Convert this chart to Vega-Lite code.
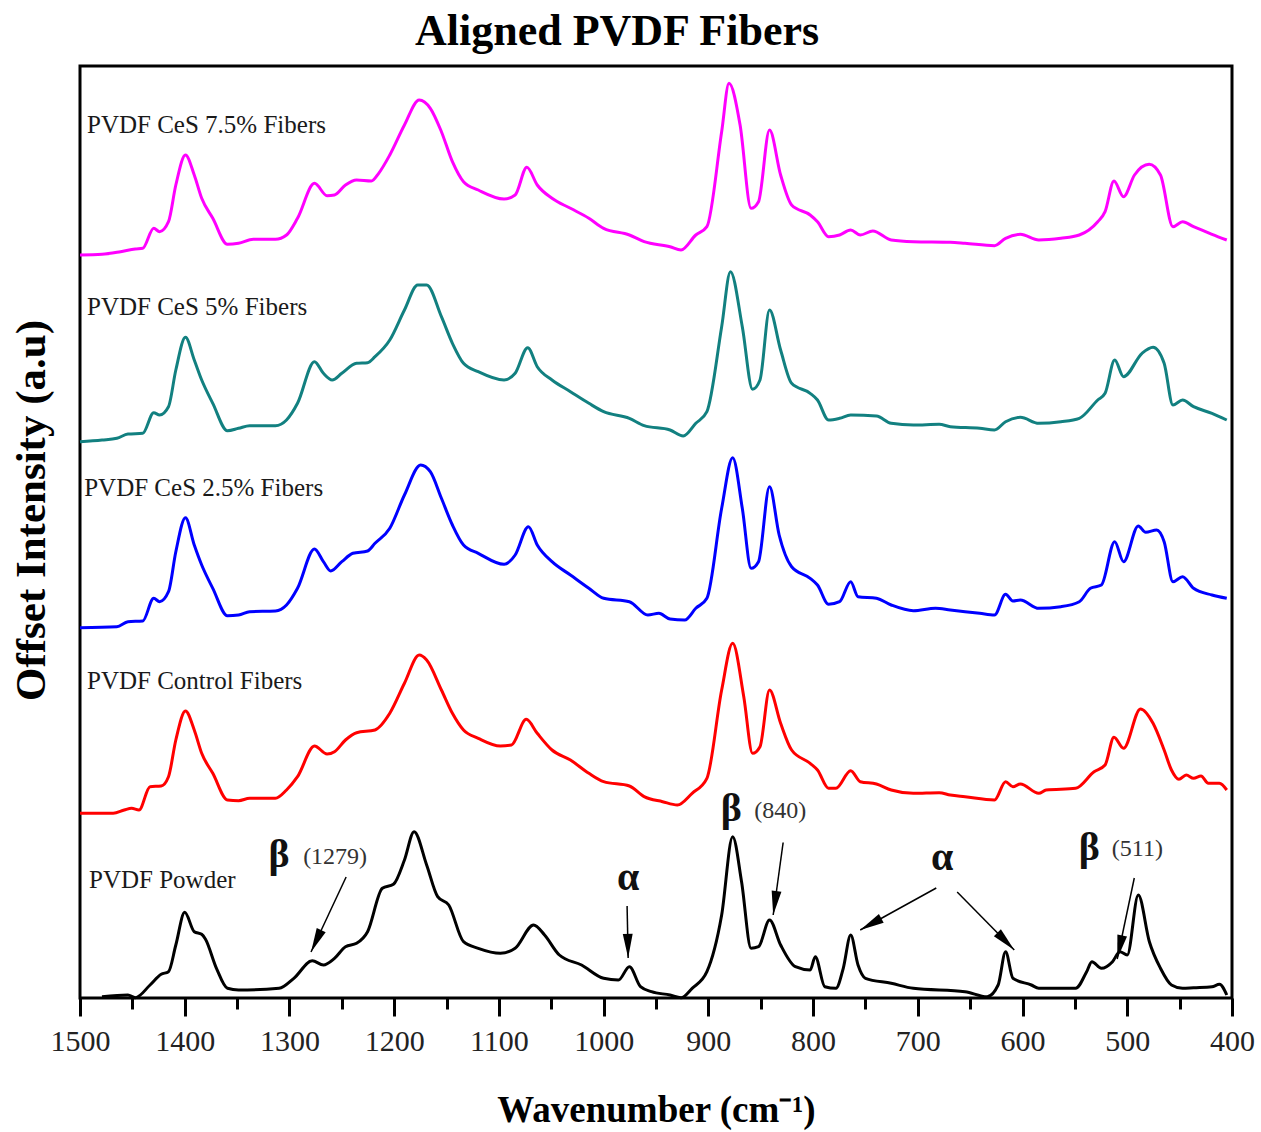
{
  "$schema": "https://vega.github.io/schema/vega-lite/v6.json",
  "width": 1152,
  "height": 932,
  "autosize": "none",
  "padding": {"left": 80, "top": 66, "right": 29, "bottom": 134},
  "background": "white",
  "title": {"text": "Aligned PVDF Fibers", "font": "Liberation Serif", "fontSize": 44, "fontWeight": "bold", "color": "black", "anchor": "middle", "dx": -39, "baseline": "alphabetic", "offset": -23},
  "config": {"view": {"stroke": "black", "strokeWidth": 3}},
  "datasets": {
    "spectra": [
      {"s":"k","w":1479,"v":1.3},{"s":"k","w":1454.2,"v":3},{"s":"k","w":1447.2,"v":0.3},{"s":"k","w":1433.1,"v":13},{"s":"k","w":1422.5,"v":23.7},{"s":"k","w":1415.5,"v":26.3},{"s":"k","w":1408.5,"v":53},{"s":"k","w":1400,"v":85.7},{"s":"k","w":1390.9,"v":66.3},{"s":"k","w":1383.8,"v":63.7},{"s":"k","w":1380.3,"v":59},{"s":"k","w":1369.7,"v":29.7},{"s":"k","w":1359.2,"v":9.7},{"s":"k","w":1348.6,"v":8},{"s":"k","w":1309.9,"v":9.7},{"s":"k","w":1295.8,"v":19.7},{"s":"k","w":1278.2,"v":37.3},{"s":"k","w":1267.6,"v":33},{"s":"k","w":1257,"v":39.7},{"s":"k","w":1246.5,"v":51.3},{"s":"k","w":1235.9,"v":54.7},{"s":"k","w":1225.4,"v":66.3},{"s":"k","w":1211.3,"v":109.7},{"s":"k","w":1200.7,"v":113.7},{"s":"k","w":1190.2,"v":138},{"s":"k","w":1181,"v":166.3},{"s":"k","w":1169,"v":133},{"s":"k","w":1158.5,"v":101.3},{"s":"k","w":1147.9,"v":93},{"s":"k","w":1133.8,"v":56.3},{"s":"k","w":1119.7,"v":49.7},{"s":"k","w":1098.6,"v":44.7},{"s":"k","w":1084.5,"v":49.7},{"s":"k","w":1066.9,"v":73},{"s":"k","w":1056.4,"v":63},{"s":"k","w":1042.3,"v":43},{"s":"k","w":1021.1,"v":33},{"s":"k","w":1000,"v":19.7},{"s":"k","w":985.9,"v":18},{"s":"k","w":975.4,"v":31.3},{"s":"k","w":964.8,"v":11.3},{"s":"k","w":954.3,"v":6.3},{"s":"k","w":936.6,"v":3},{"s":"k","w":926.1,"v":0.3},{"s":"k","w":915.5,"v":9.7},{"s":"k","w":901.4,"v":26.3},{"s":"k","w":887.3,"v":83},{"s":"k","w":876.8,"v":161.3},{"s":"k","w":868.3,"v":116.3},{"s":"k","w":859.2,"v":49.7},{"s":"k","w":852.1,"v":51.3},{"s":"k","w":841.6,"v":78},{"s":"k","w":831,"v":53},{"s":"k","w":816.9,"v":31.3},{"s":"k","w":802.8,"v":28},{"s":"k","w":797.9,"v":41.3},{"s":"k","w":788.8,"v":11.3},{"s":"k","w":778.2,"v":9.7},{"s":"k","w":771.2,"v":29.7},{"s":"k","w":764.1,"v":63},{"s":"k","w":757.1,"v":33},{"s":"k","w":750,"v":19.7},{"s":"k","w":725.4,"v":14.7},{"s":"k","w":704.3,"v":9.7},{"s":"k","w":654.9,"v":6.3},{"s":"k","w":633.8,"v":1.3},{"s":"k","w":623.3,"v":13},{"s":"k","w":616.2,"v":46.3},{"s":"k","w":609.2,"v":19.7},{"s":"k","w":591.6,"v":13},{"s":"k","w":584.5,"v":9.7},{"s":"k","w":549.3,"v":9.7},{"s":"k","w":538.8,"v":26.3},{"s":"k","w":533.8,"v":36.3},{"s":"k","w":524.7,"v":29.7},{"s":"k","w":514.1,"v":36.3},{"s":"k","w":507.1,"v":46.3},{"s":"k","w":500,"v":43},{"s":"k","w":489.5,"v":103},{"s":"k","w":478.9,"v":56.3},{"s":"k","w":468.3,"v":29.7},{"s":"k","w":457.8,"v":13},{"s":"k","w":447.2,"v":9.7},{"s":"k","w":436.7,"v":10.3},{"s":"k","w":419.1,"v":11.3},{"s":"k","w":412,"v":13.7},{"s":"k","w":405,"v":3},

      {"s":"r","w":1500,"v":184.7},{"s":"r","w":1468.3,"v":184.7},{"s":"r","w":1457.7,"v":188},{"s":"r","w":1450.7,"v":189.7},{"s":"r","w":1443.7,"v":188},{"s":"r","w":1433.1,"v":211.3},{"s":"r","w":1422.5,"v":212},{"s":"r","w":1415.5,"v":221.3},{"s":"r","w":1408.5,"v":258},{"s":"r","w":1399.3,"v":287},{"s":"r","w":1390.9,"v":268},{"s":"r","w":1383.8,"v":244.7},{"s":"r","w":1373.2,"v":224.7},{"s":"r","w":1359.2,"v":198},{"s":"r","w":1348.6,"v":197.3},{"s":"r","w":1338,"v":199.7},{"s":"r","w":1313.4,"v":199.7},{"s":"r","w":1302.8,"v":208},{"s":"r","w":1292.3,"v":221.3},{"s":"r","w":1276.1,"v":252},{"s":"r","w":1264.1,"v":244},{"s":"r","w":1257,"v":246.3},{"s":"r","w":1246.5,"v":258},{"s":"r","w":1235.9,"v":265.3},{"s":"r","w":1218.3,"v":268},{"s":"r","w":1204.2,"v":284.7},{"s":"r","w":1190.2,"v":314.7},{"s":"r","w":1176.1,"v":343},{"s":"r","w":1169,"v":338},{"s":"r","w":1154.9,"v":308},{"s":"r","w":1144.4,"v":284.7},{"s":"r","w":1133.8,"v":268},{"s":"r","w":1119.7,"v":259.7},{"s":"r","w":1098.6,"v":252},{"s":"r","w":1088,"v":253},{"s":"r","w":1073.9,"v":278.7},{"s":"r","w":1063.4,"v":264.7},{"s":"r","w":1049.3,"v":248},{"s":"r","w":1031.7,"v":238},{"s":"r","w":1014.1,"v":224.7},{"s":"r","w":1000,"v":216.3},{"s":"r","w":975.4,"v":212},{"s":"r","w":961.3,"v":201.3},{"s":"r","w":943.7,"v":196.3},{"s":"r","w":929.6,"v":193},{"s":"r","w":915.5,"v":204.7},{"s":"r","w":901.4,"v":219.7},{"s":"r","w":887.3,"v":308},{"s":"r","w":876.8,"v":354.7},{"s":"r","w":866.2,"v":301.3},{"s":"r","w":857.8,"v":244.7},{"s":"r","w":850.7,"v":251.3},{"s":"r","w":841.6,"v":308},{"s":"r","w":831,"v":274.7},{"s":"r","w":820.5,"v":248},{"s":"r","w":802.8,"v":234.7},{"s":"r","w":795.8,"v":228},{"s":"r","w":785.2,"v":209.7},{"s":"r","w":778.2,"v":209.7},{"s":"r","w":764.1,"v":227.3},{"s":"r","w":754.9,"v":216.3},{"s":"r","w":739.5,"v":214},{"s":"r","w":725.4,"v":208},{"s":"r","w":704.3,"v":204.7},{"s":"r","w":679.6,"v":205.3},{"s":"r","w":669,"v":203},{"s":"r","w":654.9,"v":201.3},{"s":"r","w":626.8,"v":198},{"s":"r","w":616.2,"v":216.3},{"s":"r","w":609.2,"v":211.3},{"s":"r","w":602.1,"v":214},{"s":"r","w":584.5,"v":204.7},{"s":"r","w":577.5,"v":208},{"s":"r","w":549.3,"v":209.7},{"s":"r","w":531.7,"v":226.3},{"s":"r","w":521.2,"v":233},{"s":"r","w":512.7,"v":260.7},{"s":"r","w":503.6,"v":249.7},{"s":"r","w":487.4,"v":289},{"s":"r","w":475.4,"v":274.7},{"s":"r","w":464.8,"v":248},{"s":"r","w":457.8,"v":228},{"s":"r","w":450.7,"v":218.7},{"s":"r","w":443.7,"v":223},{"s":"r","w":436.7,"v":219.7},{"s":"r","w":429.6,"v":222},{"s":"r","w":422.6,"v":214.7},{"s":"r","w":412,"v":214.7},{"s":"r","w":405,"v":208},

      {"s":"b","w":1500,"v":370.3},{"s":"b","w":1464.8,"v":371.3},{"s":"b","w":1454.2,"v":376.3},{"s":"b","w":1440.1,"v":377},{"s":"b","w":1429.6,"v":399.7},{"s":"b","w":1424,"v":396.3},{"s":"b","w":1415.5,"v":406.3},{"s":"b","w":1408.5,"v":446.3},{"s":"b","w":1399.3,"v":480.3},{"s":"b","w":1390.9,"v":453},{"s":"b","w":1383.8,"v":433},{"s":"b","w":1373.2,"v":409.7},{"s":"b","w":1359.2,"v":382.3},{"s":"b","w":1348.6,"v":383},{"s":"b","w":1338,"v":386.3},{"s":"b","w":1313.4,"v":387},{"s":"b","w":1302.8,"v":393},{"s":"b","w":1292.3,"v":409.7},{"s":"b","w":1276.1,"v":449},{"s":"b","w":1267.6,"v":436.3},{"s":"b","w":1260.6,"v":427},{"s":"b","w":1250,"v":436.3},{"s":"b","w":1239.4,"v":444.7},{"s":"b","w":1225.4,"v":447},{"s":"b","w":1218.3,"v":454.7},{"s":"b","w":1204.2,"v":469.7},{"s":"b","w":1190.2,"v":503},{"s":"b","w":1174.7,"v":533},{"s":"b","w":1165.5,"v":526.3},{"s":"b","w":1154.9,"v":499.7},{"s":"b","w":1144.4,"v":473},{"s":"b","w":1133.8,"v":453},{"s":"b","w":1119.7,"v":444.7},{"s":"b","w":1095.1,"v":433.7},{"s":"b","w":1084.5,"v":443},{"s":"b","w":1071.8,"v":471.3},{"s":"b","w":1063.4,"v":453},{"s":"b","w":1049.3,"v":436.3},{"s":"b","w":1031.7,"v":423},{"s":"b","w":1014.1,"v":409.7},{"s":"b","w":1000,"v":399.7},{"s":"b","w":975.4,"v":396.3},{"s":"b","w":957.8,"v":383},{"s":"b","w":947.2,"v":384.7},{"s":"b","w":936.6,"v":379},{"s":"b","w":922.6,"v":378},{"s":"b","w":912,"v":389.7},{"s":"b","w":901.4,"v":399.7},{"s":"b","w":887.3,"v":489.7},{"s":"b","w":876.8,"v":540.3},{"s":"b","w":867.6,"v":489.7},{"s":"b","w":859.2,"v":429.7},{"s":"b","w":852.1,"v":436.3},{"s":"b","w":841.6,"v":511.3},{"s":"b","w":832.4,"v":463},{"s":"b","w":820.5,"v":431.3},{"s":"b","w":802.8,"v":419.7},{"s":"b","w":795.8,"v":413},{"s":"b","w":785.2,"v":393.7},{"s":"b","w":774.7,"v":396.3},{"s":"b","w":764.1,"v":416.3},{"s":"b","w":757.1,"v":401.3},{"s":"b","w":739.5,"v":399.7},{"s":"b","w":725.4,"v":393},{"s":"b","w":704.3,"v":387.3},{"s":"b","w":683.1,"v":389.7},{"s":"b","w":669,"v":388},{"s":"b","w":640.9,"v":384.7},{"s":"b","w":626.8,"v":383},{"s":"b","w":616.2,"v":403.7},{"s":"b","w":609.2,"v":397},{"s":"b","w":602.1,"v":398},{"s":"b","w":584.5,"v":389.7},{"s":"b","w":563.4,"v":391.3},{"s":"b","w":545.8,"v":396.3},{"s":"b","w":535.2,"v":409.7},{"s":"b","w":524.7,"v":413},{"s":"b","w":512,"v":456.3},{"s":"b","w":503.6,"v":436.3},{"s":"b","w":489.5,"v":472},{"s":"b","w":482.4,"v":465.7},{"s":"b","w":471.9,"v":468},{"s":"b","w":464.8,"v":456.3},{"s":"b","w":456.4,"v":416.3},{"s":"b","w":447.2,"v":421.3},{"s":"b","w":436.7,"v":409.7},{"s":"b","w":419.1,"v":403},{"s":"b","w":405,"v":399.7},

      {"s":"t","w":1500,"v":556.3},{"s":"t","w":1478.9,"v":558},{"s":"t","w":1464.8,"v":559.7},{"s":"t","w":1454.2,"v":564},{"s":"t","w":1440.1,"v":564.7},{"s":"t","w":1429.6,"v":585.3},{"s":"t","w":1424,"v":583},{"s":"t","w":1415.5,"v":591.3},{"s":"t","w":1408.5,"v":628},{"s":"t","w":1399.3,"v":660.7},{"s":"t","w":1390.9,"v":638},{"s":"t","w":1383.8,"v":618},{"s":"t","w":1373.2,"v":594.7},{"s":"t","w":1359.2,"v":567.3},{"s":"t","w":1348.6,"v":569.7},{"s":"t","w":1338,"v":572.3},{"s":"t","w":1313.4,"v":572.3},{"s":"t","w":1302.8,"v":578},{"s":"t","w":1292.3,"v":594.7},{"s":"t","w":1276.1,"v":636.3},{"s":"t","w":1267.6,"v":624.7},{"s":"t","w":1259.2,"v":618},{"s":"t","w":1250,"v":624.7},{"s":"t","w":1235.9,"v":634.7},{"s":"t","w":1225.4,"v":635.3},{"s":"t","w":1218.3,"v":641.3},{"s":"t","w":1204.2,"v":658},{"s":"t","w":1190.2,"v":688},{"s":"t","w":1177.5,"v":713},{"s":"t","w":1169,"v":713},{"s":"t","w":1154.9,"v":681.3},{"s":"t","w":1144.4,"v":654.7},{"s":"t","w":1133.8,"v":634.7},{"s":"t","w":1119.7,"v":626.3},{"s":"t","w":1095.1,"v":618},{"s":"t","w":1084.5,"v":624.7},{"s":"t","w":1072.5,"v":650.3},{"s":"t","w":1063.4,"v":631.3},{"s":"t","w":1049.3,"v":618},{"s":"t","w":1031.7,"v":606.3},{"s":"t","w":1014.1,"v":594.7},{"s":"t","w":1000,"v":586.3},{"s":"t","w":975.4,"v":579.7},{"s":"t","w":961.3,"v":572.3},{"s":"t","w":936.6,"v":568},{"s":"t","w":924,"v":562},{"s":"t","w":912,"v":574.7},{"s":"t","w":901.4,"v":586.3},{"s":"t","w":887.3,"v":671.3},{"s":"t","w":878.9,"v":726.3},{"s":"t","w":867.6,"v":671.3},{"s":"t","w":857.8,"v":608.7},{"s":"t","w":850.7,"v":618},{"s":"t","w":841.6,"v":688},{"s":"t","w":831,"v":648},{"s":"t","w":820.5,"v":614.7},{"s":"t","w":802.8,"v":604.7},{"s":"t","w":795.8,"v":598},{"s":"t","w":785.2,"v":578},{"s":"t","w":774.7,"v":579.7},{"s":"t","w":764.1,"v":583},{"s":"t","w":739.5,"v":582},{"s":"t","w":725.4,"v":574.7},{"s":"t","w":704.3,"v":573},{"s":"t","w":679.6,"v":573.7},{"s":"t","w":669,"v":571.3},{"s":"t","w":640.9,"v":569.7},{"s":"t","w":626.8,"v":568},{"s":"t","w":616.2,"v":576.3},{"s":"t","w":602.1,"v":580.7},{"s":"t","w":584.5,"v":574.7},{"s":"t","w":563.4,"v":576.3},{"s":"t","w":545.8,"v":579.7},{"s":"t","w":528.2,"v":598},{"s":"t","w":521.2,"v":604.7},{"s":"t","w":512,"v":638},{"s":"t","w":503.6,"v":621.3},{"s":"t","w":485.9,"v":644.7},{"s":"t","w":475.4,"v":650.7},{"s":"t","w":464.8,"v":634.7},{"s":"t","w":456.4,"v":593},{"s":"t","w":447.2,"v":598},{"s":"t","w":436.7,"v":591.3},{"s":"t","w":419.1,"v":584.7},{"s":"t","w":405,"v":578},

      {"s":"m","w":1500,"v":743},{"s":"m","w":1478.9,"v":743.7},{"s":"m","w":1461.3,"v":746.3},{"s":"m","w":1447.2,"v":749},{"s":"m","w":1440.1,"v":749.7},{"s":"m","w":1429.6,"v":769.7},{"s":"m","w":1424,"v":766.3},{"s":"m","w":1415.5,"v":776.3},{"s":"m","w":1408.5,"v":813},{"s":"m","w":1399.3,"v":843},{"s":"m","w":1390.9,"v":823},{"s":"m","w":1383.8,"v":799.7},{"s":"m","w":1373.2,"v":779.7},{"s":"m","w":1359.2,"v":753.7},{"s":"m","w":1348.6,"v":754.7},{"s":"m","w":1334.5,"v":758.7},{"s":"m","w":1313.4,"v":758.7},{"s":"m","w":1302.8,"v":763},{"s":"m","w":1292.3,"v":779.7},{"s":"m","w":1276.1,"v":814.7},{"s":"m","w":1264.1,"v":802.3},{"s":"m","w":1257,"v":803},{"s":"m","w":1246.5,"v":813},{"s":"m","w":1235.9,"v":818},{"s":"m","w":1221.8,"v":817},{"s":"m","w":1214.8,"v":824.7},{"s":"m","w":1204.2,"v":843},{"s":"m","w":1190.2,"v":873},{"s":"m","w":1176.1,"v":898},{"s":"m","w":1165.5,"v":889.7},{"s":"m","w":1154.9,"v":866.3},{"s":"m","w":1144.4,"v":836.3},{"s":"m","w":1133.8,"v":816.3},{"s":"m","w":1119.7,"v":808},{"s":"m","w":1095.1,"v":799},{"s":"m","w":1084.5,"v":803},{"s":"m","w":1073.3,"v":830.7},{"s":"m","w":1063.4,"v":813},{"s":"m","w":1049.3,"v":799.7},{"s":"m","w":1031.7,"v":789.7},{"s":"m","w":1014.1,"v":779.7},{"s":"m","w":1000,"v":769.7},{"s":"m","w":975.4,"v":763},{"s":"m","w":961.3,"v":756.3},{"s":"m","w":936.6,"v":751.3},{"s":"m","w":926.1,"v":748},{"s":"m","w":912,"v":763},{"s":"m","w":901.4,"v":771.3},{"s":"m","w":887.3,"v":866.3},{"s":"m","w":880.3,"v":914.7},{"s":"m","w":869.7,"v":873},{"s":"m","w":859.2,"v":789.7},{"s":"m","w":852.1,"v":796.3},{"s":"m","w":841.6,"v":868},{"s":"m","w":831,"v":823},{"s":"m","w":820.5,"v":793},{"s":"m","w":802.8,"v":783},{"s":"m","w":795.8,"v":776.3},{"s":"m","w":785.2,"v":761.3},{"s":"m","w":774.7,"v":763},{"s":"m","w":764.1,"v":768},{"s":"m","w":754.9,"v":763},{"s":"m","w":743,"v":767},{"s":"m","w":725.4,"v":758},{"s":"m","w":704.3,"v":756.3},{"s":"m","w":669,"v":755.7},{"s":"m","w":654.9,"v":754.7},{"s":"m","w":626.8,"v":752.3},{"s":"m","w":616.2,"v":759.7},{"s":"m","w":602.1,"v":763.7},{"s":"m","w":584.5,"v":758},{"s":"m","w":563.4,"v":759.7},{"s":"m","w":545.8,"v":763},{"s":"m","w":528.2,"v":776.3},{"s":"m","w":521.2,"v":786.3},{"s":"m","w":512.7,"v":817},{"s":"m","w":503.6,"v":801.3},{"s":"m","w":493.1,"v":823},{"s":"m","w":479.1,"v":833.7},{"s":"m","w":468.3,"v":823},{"s":"m","w":456.4,"v":771.3},{"s":"m","w":447.2,"v":776.3},{"s":"m","w":436.7,"v":771.3},{"s":"m","w":419.1,"v":763.7},{"s":"m","w":405,"v":758}
    ],
    "labels": [
      {"t":"PVDF CeS 7.5% Fibers","w":1493.3,"v":873},
      {"t":"PVDF CeS 5% Fibers","w":1493.3,"v":691},
      {"t":"PVDF CeS 2.5% Fibers","w":1496,"v":510},
      {"t":"PVDF Control Fibers","w":1493.3,"v":317},
      {"t":"PVDF Powder","w":1491.4,"v":118}
    ],
    "greek": [
      {"t":"β","w":1309.9,"v":143},
      {"t":"α","w":976.6,"v":120},
      {"t":"β","w":878.2,"v":189},
      {"t":"α","w":676.7,"v":140},
      {"t":"β","w":536.3,"v":150}
    ],
    "nums": [
      {"t":"(1279)","w":1256.4,"v":141},
      {"t":"(840)","w":831.4,"v":187},
      {"t":"(511)","w":490.4,"v":149}
    ],
    "arrows": [
      {"w1":1245.9,"v1":121,"w2":1279.4,"v2":46,"ang":205},
      {"w1":977.6,"v1":92,"w2":976.6,"v2":40,"ang":179},
      {"w1":828.6,"v1":155.5,"w2":838.1,"v2":83,"ang":188},
      {"w1":682.4,"v1":110,"w2":755,"v2":68,"ang":241},
      {"w1":662.4,"v1":106,"w2":607.9,"v2":48,"ang":135.5},
      {"w1":493.3,"v1":120,"w2":509.6,"v2":39,"ang":192}
    ]
  },
  "layer": [
    {
      "data": {"name": "spectra"},
      "mark": {"type": "line", "strokeWidth": 3, "interpolate": "monotone"},
      "encoding": {
        "x": {"field": "w", "type": "quantitative",
          "scale": {"domain": [400, 1500], "reverse": true, "nice": false, "zero": false},
          "axis": {
            "values": [1500,1450,1400,1350,1300,1250,1200,1150,1100,1050,1000,950,900,850,800,750,700,650,600,550,500,450,400],
            "format": "d",
            "labelExpr": "datum.value % 100 === 0 ? datum.label : ''",
            "tickSize": {"condition": {"test": "datum.value % 100 === 0", "value": 18}, "value": 11},
            "tickWidth": 3, "tickColor": "black", "domain": false, "grid": false,
            "labelFont": "Liberation Serif", "labelFontSize": 30, "labelColor": "#222",
            "labelPadding": 10, "labelFlush": false, "labelOverlap": false,
            "title": "Wavenumber (cm⁻¹)", "titleFont": "Liberation Serif", "titleFontSize": 37,
            "titleFontWeight": "bold", "titleColor": "black", "titleY": 112, "titleBaseline": "middle"
          }
        },
        "y": {"field": "v", "type": "quantitative",
          "scale": {"domain": [0, 932], "nice": false, "zero": false},
          "axis": {
            "title": "Offset Intensity (a.u)", "labels": false, "ticks": false, "domain": false, "grid": false,
            "titleFont": "Liberation Serif", "titleFontSize": 43, "titleFontWeight": "bold", "titleColor": "black",
            "titleAngle": -90, "titleX": -49, "titleY": 444, "titleAlign": "center", "titleBaseline": "middle"
          }
        },
        "color": {"field": "s", "type": "nominal",
          "scale": {"domain": ["m","t","b","r","k"], "range": ["#ff00ff","#128080","#0000ff","#ff0000","#000000"]},
          "legend": null}
      }
    },
    {
      "data": {"name": "labels"},
      "mark": {"type": "text", "align": "left", "baseline": "middle", "font": "Liberation Serif", "fontSize": 25, "color": "#1a1a1a"},
      "encoding": {
        "x": {"field": "w", "type": "quantitative"},
        "y": {"field": "v", "type": "quantitative"},
        "text": {"field": "t"}
      }
    },
    {
      "data": {"name": "greek"},
      "mark": {"type": "text", "align": "center", "baseline": "middle", "font": "Liberation Serif", "fontSize": 40, "fontWeight": "bold", "color": "#111"},
      "encoding": {
        "x": {"field": "w", "type": "quantitative"},
        "y": {"field": "v", "type": "quantitative"},
        "text": {"field": "t"}
      }
    },
    {
      "data": {"name": "nums"},
      "mark": {"type": "text", "align": "center", "baseline": "middle", "font": "Liberation Serif", "fontSize": 24, "color": "#333"},
      "encoding": {
        "x": {"field": "w", "type": "quantitative"},
        "y": {"field": "v", "type": "quantitative"},
        "text": {"field": "t"}
      }
    },
    {
      "data": {"name": "arrows"},
      "mark": {"type": "rule", "strokeWidth": 1.5, "color": "black"},
      "encoding": {
        "x": {"field": "w1", "type": "quantitative"},
        "y": {"field": "v1", "type": "quantitative"},
        "x2": {"field": "w2"},
        "y2": {"field": "v2"}
      }
    },
    {
      "data": {"name": "arrows"},
      "mark": {"type": "point", "shape": "M0,0L-0.45,2.2L0.45,2.2Z", "filled": true, "color": "black", "opacity": 1, "size": 480, "strokeWidth": 0},
      "encoding": {
        "x": {"field": "w2", "type": "quantitative"},
        "y": {"field": "v2", "type": "quantitative"},
        "angle": {"field": "ang", "type": "quantitative", "scale": null}
      }
    }
  ]
}
